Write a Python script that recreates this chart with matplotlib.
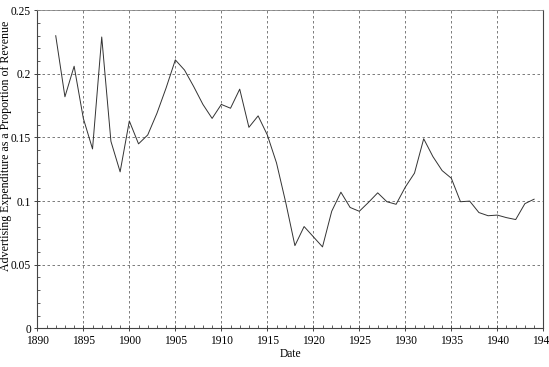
import matplotlib
matplotlib.use("Agg")
import matplotlib.pyplot as plt
from matplotlib.ticker import MultipleLocator, FuncFormatter

# advertising expenditure / revenue
years = list(range(1892, 1945))
ratio = [0.230, 0.182, 0.206, 0.165, 0.141, 0.229, 0.147, 0.123, 0.163, 0.145,
         0.152, 0.169, 0.189, 0.211, 0.203, 0.190, 0.176, 0.165, 0.176, 0.173,
         0.188, 0.158, 0.167, 0.152, 0.130, 0.099, 0.065, 0.080, 0.072, 0.064,
         0.092, 0.107, 0.095, 0.092, 0.099, 0.1065, 0.0995, 0.0975, 0.111, 0.122,
         0.149, 0.135, 0.124, 0.118, 0.0995, 0.1, 0.091, 0.0885, 0.089, 0.087,
         0.0855, 0.098, 0.1015]

plt.rcParams['font.family'] = ['Liberation Serif', 'DejaVu Serif']
plt.rcParams['font.size'] = 8.3

fig = plt.figure(figsize=(5.49, 3.67), dpi=100)
ax = fig.add_axes([0.068, 0.1054, 0.9216, 0.8666])

ax.plot(years, ratio, color='#333333', lw=0.7)

ax.set_xlim(1890, 1945)
ax.set_ylim(0, 0.25)
ax.xaxis.set_major_locator(MultipleLocator(5))
ax.xaxis.set_minor_locator(MultipleLocator(1))
ax.yaxis.set_major_locator(MultipleLocator(0.05))
ax.yaxis.set_minor_locator(MultipleLocator(0.01))
ax.yaxis.set_major_formatter(FuncFormatter(lambda v, p: '%g' % round(v, 2)))

ax.tick_params(which='major', direction='inout', length=5, width=0.7, color='#444444', pad=2)
ax.tick_params(which='minor', direction='in', length=2.5, width=0.6, color='#444444')
ax.tick_params(top=False, right=False, which='both')

ax.grid(True, which='major', linestyle=(0, (3, 3)), color='#666666', lw=0.6)

for s in ['left', 'bottom', 'right']:
    ax.spines[s].set_color('#444444')
    ax.spines[s].set_linewidth(0.8)
ax.spines['top'].set_color('#888888')
ax.spines['top'].set_linewidth(0.6)

ax.set_xlabel('Date', fontsize=8.3, labelpad=1)
ax.set_ylabel('Advertising Expenditure as a Proportion of Revenue', fontsize=8.6)
ax.yaxis.set_label_coords(-0.05, 0.573)

fig.savefig('out.png', dpi=100)
